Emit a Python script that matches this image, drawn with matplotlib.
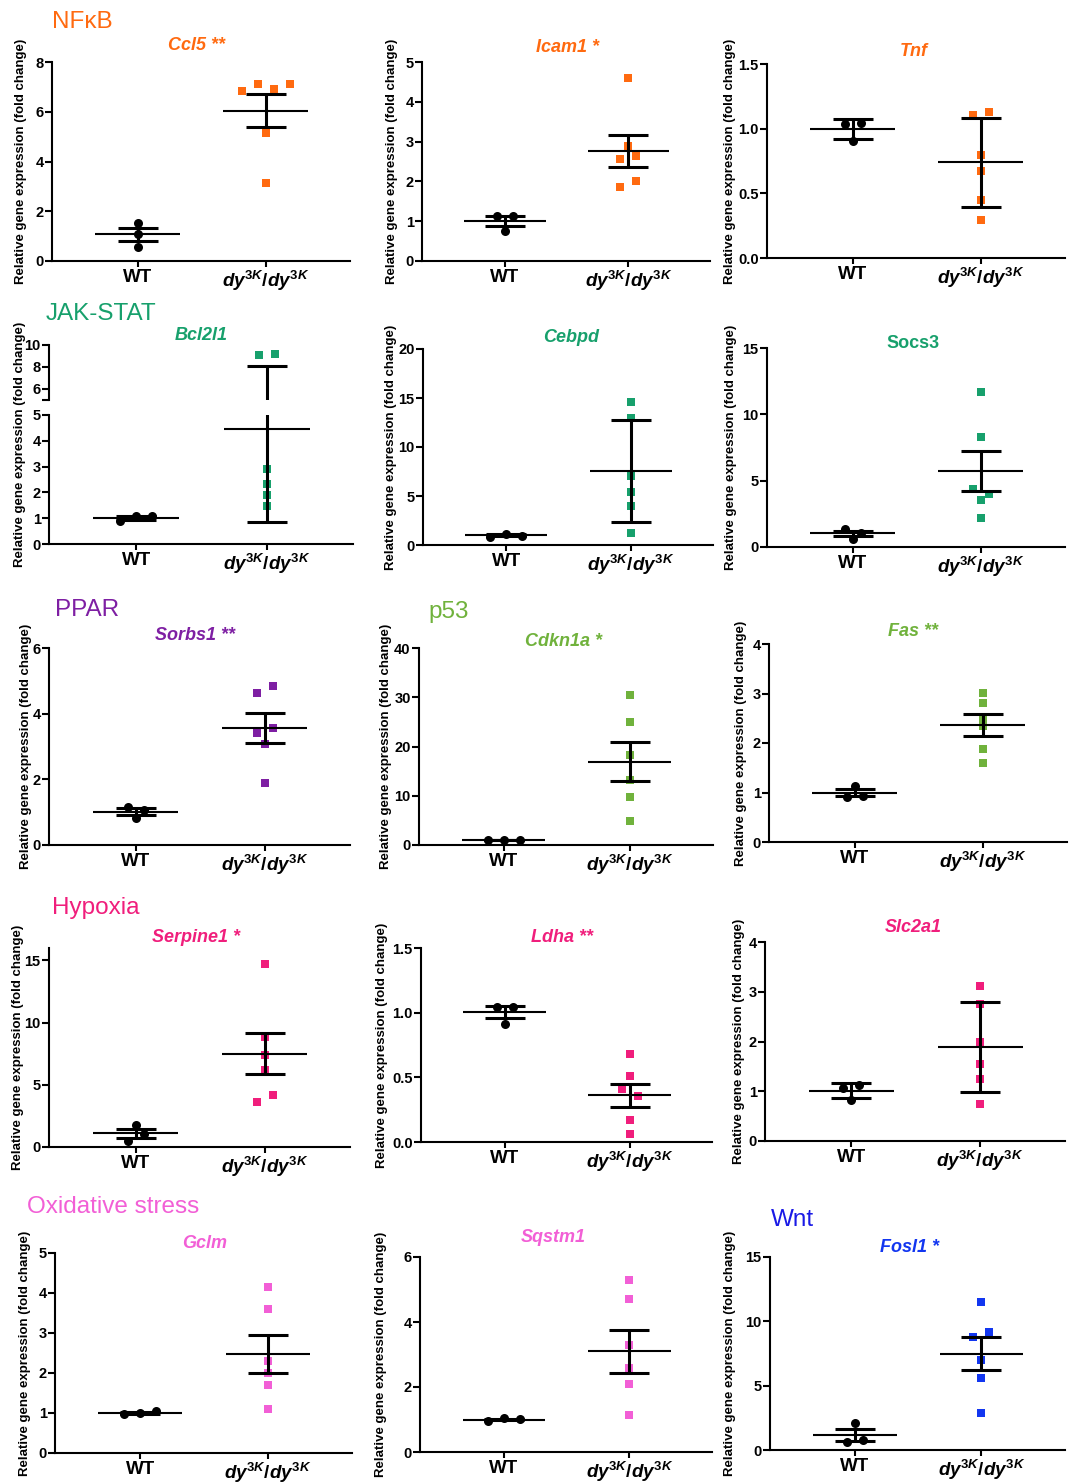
import numpy as np
import matplotlib.pyplot as plt

plt.rcParams['font.family'] = ['Liberation Sans', 'DejaVu Sans']
plt.rcParams['mathtext.fontset'] = 'custom'
plt.rcParams['mathtext.it'] = 'Liberation Sans:italic:bold'
plt.rcParams['mathtext.rm'] = 'Liberation Sans:bold'
plt.rcParams['mathtext.bf'] = 'Liberation Sans:bold'

W, H = 1072, 1483

genes = ['Ccl5', 'Icam1', 'Tnf', 'Bcl2l1', 'Cebpd', 'Socs3', 'Sorbs1', 'Cdkn1a', 'Fas',
         'Serpine1', 'Ldha', 'Slc2a1', 'Gclm', 'Sqstm1', 'Fosl1']
stars = ['**', '*', '', '', '', '', '**', '*', '**', '*', '**', '', '', '', '*']
groups = ['WT', r'$\mathit{dy^{3K}}$/$\mathit{dy^{3K}}$']

wt_vals = [
    [1.53, 1.07, 0.56],
    [1.12, 1.13, 0.76],
    [1.034, 1.047, 0.908],
    [0.88, 1.1, 1.1],
    [0.78, 1.16, 0.95],
    [1.38, 1.08, 0.63],
    [1.17, 1.06, 0.81],
    [1.0, 1.1, 1.0],
    [1.14, 0.91, 0.93],
    [1.74, 0.46, 1.04],
    [1.045, 1.045, 0.913],
    [1.07, 1.12, 0.82],
    [0.98, 1.0, 1.05],
    [0.95, 1.05, 1.02],
    [2.1, 0.65, 0.75],
]
dy_vals = [
    [6.85, 7.1, 6.9, 7.1, 5.15, 3.14],
    [4.61, 2.88, 2.56, 2.64, 1.87, 2.0],
    [1.109, 1.132, 0.798, 0.674, 0.448, 0.293],
    [9.1, 9.15, 2.91, 2.33, 1.89, 1.47],
    [14.6, 13.0, 7.0, 5.38, 4.02, 1.23],
    [11.72, 8.27, 4.39, 4.03, 3.53, 2.19],
    [4.63, 4.85, 3.41, 3.55, 3.07, 1.9],
    [30.55, 24.98, 18.2, 13.1, 9.84, 4.96],
    [3.02, 2.80, 2.51, 2.35, 1.88, 1.59],
    [14.73, 8.84, 7.42, 6.19, 3.62, 4.15],
    [0.68, 0.512, 0.409, 0.357, 0.173, 0.065],
    [3.11, 2.75, 1.99, 1.55, 1.24, 0.75],
    [4.15, 3.6, 2.3, 2.0, 1.7, 1.1],
    [5.3, 4.7, 3.3, 2.6, 2.1, 1.15],
    [11.5, 8.8, 9.2, 7.0, 5.6, 2.9],
]
wt_mean = [1.07, 1.01, 0.998, 1.0, 1.0, 1.03, 1.02, 1.0, 1.0, 1.1, 1.003, 1.01, 1.0, 1.0, 1.17]
wt_err = [0.27, 0.125, 0.077, 0.07, 0.12, 0.2, 0.1, 0.05, 0.075, 0.36, 0.045, 0.15, 0.03, 0.03, 0.45]
dy_mean = [6.05, 2.76, 0.741, 4.47, 7.56, 5.72, 3.57, 16.94, 2.36, 7.5, 0.362, 1.88, 2.48, 3.1, 7.5]
dy_err = [0.65, 0.40, 0.345, 3.62, 5.22, 1.5, 0.45, 3.9, 0.22, 1.67, 0.09, 0.905, 0.47, 0.66, 1.25]

ylims = [8, 5, 1.5, 5, 20, 15, 6, 40, 4, 16, 1.5, 4, 5, 6, 15]
yticks = [[0, 2, 4, 6, 8], [0, 1, 2, 3, 4, 5], [0, 0.5, 1.0, 1.5], [0, 1, 2, 3, 4, 5],
          [0, 5, 10, 15, 20], [0, 5, 10, 15], [0, 2, 4, 6], [0, 10, 20, 30, 40],
          [0, 1, 2, 3, 4], [0, 5, 10, 15], [0, 0.5, 1.0, 1.5], [0, 1, 2, 3, 4],
          [0, 1, 2, 3, 4, 5], [0, 2, 4, 6], [0, 5, 10, 15]]
# broken axis of Bcl2l1
broken = 3
upper_lim = (5, 10)
upper_ticks = [5, 6, 8, 10]
upper_labels = ['', '6', '8', '10']

orange, green, purple = '#FF6A10', '#17A06C', '#7E1FA3'
lgreen, pink, magenta, blue = '#70B23C', '#F01E7C', '#F25FD6', '#1236F0'
colors = [orange] * 3 + [green] * 3 + [purple, lgreen, lgreen] + [pink] * 3 + [magenta, magenta, blue]

pathways = ['NF\u03baB', 'JAK-STAT', 'PPAR', 'p53', 'Hypoxia', 'Oxidative stress', 'Wnt']
pathway_colors = [orange, green, purple, lgreen, pink, magenta, '#1A1AE6']

# layout in pixels
rects = [(52, 62, 350, 261), (422, 62, 710, 261), (767, 64, 1065, 258),
         (49, 345, 353, 544), (423, 349, 713, 545), (767, 348, 1065, 547),
         (49, 648, 350, 845), (419, 648, 713, 845), (769, 644, 1067, 842),
         (49, 948, 350, 1147), (421, 948, 712, 1142), (765, 942, 1065, 1141),
         (55, 1253, 352, 1453), (420, 1257, 712, 1452), (770, 1257, 1065, 1450)]
title_pos = [(168, 45), (536, 47), (900, 52), (175, 335), (543, 337), (886, 343),
             (155, 635), (525, 642), (888, 631), (152, 937), (531, 937), (885, 928),
             (182, 1243), (521, 1237), (880, 1247)]
ylabel_x = [21, 392, 730, 20, 391, 731, 26, 386, 741, 18, 382, 739, 25, 381, 730]
pathway_pos = [(52, 22), (46, 314), (55, 610), (428, 612), (52, 908), (27, 1207), (771, 1220)]


def frac_rect(l, t, r, b):
    return [l / W, 1 - b / H, (r - l) / W, (b - t) / H]


def fmt_ticks(ticks):
    if any(t != int(t) for t in ticks):
        return [f'{t:.1f}' for t in ticks]
    return [f'{int(t)}' for t in ticks]


def style(ax, ylim, ticks, labels, bottom=True):
    ax.spines[['top', 'right']].set_visible(False)
    ax.spines['left'].set_linewidth(1.5)
    ax.spines['bottom'].set_linewidth(1.5)
    ax.tick_params(axis='y', width=1.5, length=5, pad=1)
    ax.tick_params(axis='x', width=1.5, length=4.5, pad=1)
    ax.set_xlim(0.33, 2.66)
    ax.set_ylim(*ylim)
    ax.set_yticks(ticks)
    ax.set_yticklabels(labels, fontweight='bold', fontsize=10.5)
    if bottom:
        ax.set_xticks([1, 2])
        ax.set_xticklabels(groups, fontweight='bold', fontsize=13.5)
    else:
        ax.spines['bottom'].set_visible(False)
        ax.set_xticks([])


def swarm_x(axes_for, center, vals, thresh, step=16):
    disp_y = [axes_for(v).transData.transform((center, v))[1] for v in vals]
    order = np.argsort(-np.array(disp_y), kind='stable')
    rows = []
    for i in order:
        if rows and disp_y[rows[-1][0]] - disp_y[i] < thresh:
            rows[-1].append(i)
        else:
            rows.append([i])
    xs = np.full(len(vals), float(center))
    for row in rows:
        row = sorted(row)
        k = len(row)
        for j, i in enumerate(row):
            a = axes_for(vals[i])
            x0, y0 = a.transData.transform((center, vals[i]))
            xs[i] = a.transData.inverted().transform((x0 + (j - (k - 1) / 2) * step, y0))[0]
    return xs


fig = plt.figure(figsize=(W / 100, H / 100), dpi=100)

for i, g in enumerate(genes):
    l, t, r, b = rects[i]
    if i == broken:
        low = fig.add_axes(frac_rect(l, 415, r, b))
        up = fig.add_axes(frac_rect(l, t, r, 400))
        style(low, (0, ylims[i]), yticks[i], fmt_ticks(yticks[i]))
        style(up, upper_lim, upper_ticks, upper_labels, bottom=False)
        axes = [low, up]

        def axes_for(v, low=low, up=up):
            return up if v > upper_lim[0] else low
    else:
        ax = fig.add_axes(frac_rect(l, t, r, b))
        style(ax, (0, ylims[i]), yticks[i], fmt_ticks(yticks[i]))
        axes = [ax]

        def axes_for(v, ax=ax):
            return ax

    xs_wt = swarm_x(axes_for, 1, wt_vals[i], thresh=8)
    xs_dy = swarm_x(axes_for, 2, dy_vals[i], thresh=7.5)
    for a in axes:
        a.scatter(xs_wt, wt_vals[i], marker='o', s=6.5 ** 2, color='black', linewidths=0, zorder=3)
        a.scatter(xs_dy, dy_vals[i], marker='s', s=5.8 ** 2, color=colors[i], linewidths=0, zorder=3)
        for x, m, e in [(1, wt_mean[i], wt_err[i]), (2, dy_mean[i], dy_err[i])]:
            a.hlines(m, x - 0.33, x + 0.33, color='black', lw=1.5, zorder=4)
            a.errorbar([x], [m], yerr=[e], fmt='none', ecolor='black', elinewidth=2.2,
                       capsize=14.5, capthick=2.2, zorder=4)

    # y label
    fig.text(ylabel_x[i] / W, 1 - (t + b) / 2 / H, 'Relative gene expression (fold change)',
             rotation=90, ha='center', va='center', fontsize=9.5, fontweight='bold')
    # gene title
    tx, ty = title_pos[i]
    label = g + (' ' + stars[i] if stars[i] else '')
    fig.text(tx / W, 1 - ty / H, label, ha='left', va='center', fontsize=13,
             fontweight='bold', fontstyle='normal' if g == 'Socs3' else 'italic',
             color=colors[i])

for name, c, (px, py) in zip(pathways, pathway_colors, pathway_pos):
    fig.text(px / W, 1 - py / H, name, ha='left', va='center', fontsize=17.5, color=c)

fig.savefig('out.png', dpi=100)
